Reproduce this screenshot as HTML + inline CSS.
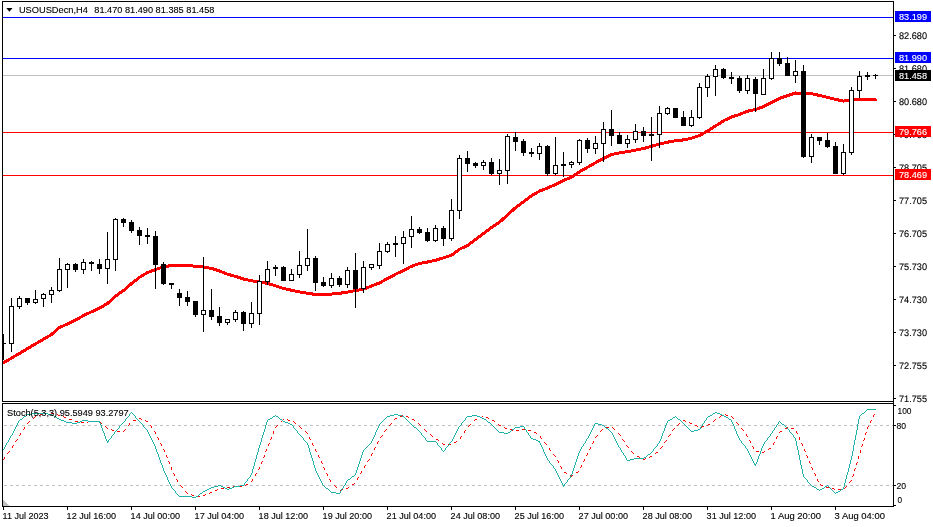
<!DOCTYPE html>
<html><head><meta charset="utf-8"><title>USOUSDecn,H4</title>
<style>html,body{margin:0;padding:0;background:#fff}body{width:933px;height:527px;overflow:hidden;position:relative}</style></head>
<body>
<svg width="933" height="527" viewBox="0 0 933 527" shape-rendering="crispEdges" style="position:absolute;left:0;top:0">
<rect x="0" y="0" width="933" height="527" fill="#fff"/>
<rect x="3" y="17" width="890" height="1" fill="#0000ff"/>
<rect x="3" y="58" width="890" height="1" fill="#0000ff"/>
<rect x="3" y="75" width="890" height="1" fill="#c0c0c0"/>
<rect x="3" y="132" width="890" height="1" fill="#ff0000"/>
<rect x="3" y="175" width="890" height="1" fill="#ff0000"/>
<polyline points="3.5,362.8 11.5,358.1 19.5,353.4 27.5,348.6 35.5,343.9 43.5,339.2 51.5,334.5 59.5,327.5 67.5,324.0 75.5,320.1 83.5,315.6 91.5,311.8 99.5,308.1 107.5,303.5 115.5,296.1 123.5,290.5 131.5,283.6 139.5,277.3 147.5,272.5 155.5,269.6 163.5,266.7 171.5,265.6 179.5,265.6 187.5,265.6 195.5,266.2 203.5,267.0 211.5,268.4 219.5,271.0 227.5,274.2 235.5,276.4 243.5,279.0 251.5,280.7 259.5,282.1 267.5,283.3 275.5,285.9 283.5,288.4 291.5,290.2 299.5,291.9 307.5,293.2 315.5,294.5 323.5,294.6 331.5,294.1 339.5,293.3 347.5,292.1 355.5,290.6 363.5,289.2 371.5,286.0 379.5,282.9 387.5,278.6 395.5,274.3 403.5,270.4 411.5,266.3 419.5,263.5 427.5,262.0 435.5,260.3 443.5,257.8 451.5,255.2 459.5,249.2 467.5,245.5 475.5,239.5 483.5,233.5 491.5,227.5 499.5,222.3 507.5,214.9 515.5,207.7 523.5,201.7 531.5,195.7 539.5,191.1 547.5,188.0 555.5,184.5 563.5,180.4 571.5,177.2 579.5,171.8 587.5,167.3 595.5,162.7 603.5,158.5 611.5,154.5 619.5,152.9 627.5,151.6 635.5,150.1 643.5,148.6 651.5,146.3 659.5,144.0 667.5,142.2 675.5,140.7 683.5,139.9 691.5,138.2 699.5,135.6 707.5,131.0 715.5,126.0 723.5,120.8 731.5,116.9 739.5,114.5 747.5,111.2 755.5,109.5 763.5,106.6 771.5,102.6 779.5,98.4 787.5,95.6 795.5,93.0 803.5,93.2 811.5,93.6 819.5,95.5 827.5,97.3 835.5,99.3 843.5,101.1 851.5,99.7 859.5,99.7 867.5,99.7 875.5,99.7" fill="none" stroke="#ff0000" stroke-width="3" stroke-linejoin="round" stroke-linecap="round"/>
<rect x="3" y="334" width="1" height="26" fill="#000"/>
<rect x="3" y="343" width="3" height="1" fill="#000"/>
<rect x="11" y="298" width="1" height="54" fill="#000"/>
<rect x="9" y="306" width="5" height="38" fill="#000"/>
<rect x="10" y="307" width="3" height="36" fill="#fff"/>
<rect x="19" y="296" width="1" height="13" fill="#000"/>
<rect x="17" y="298" width="5" height="9" fill="#000"/>
<rect x="18" y="299" width="3" height="7" fill="#fff"/>
<rect x="27" y="298" width="1" height="7" fill="#000"/>
<rect x="25" y="298" width="5" height="5" fill="#000"/>
<rect x="35" y="290" width="1" height="14" fill="#000"/>
<rect x="33" y="299" width="5" height="4" fill="#000"/>
<rect x="34" y="300" width="3" height="2" fill="#fff"/>
<rect x="43" y="293" width="1" height="14" fill="#000"/>
<rect x="41" y="294" width="5" height="5" fill="#000"/>
<rect x="42" y="295" width="3" height="3" fill="#fff"/>
<rect x="51" y="287" width="1" height="16" fill="#000"/>
<rect x="49" y="290" width="5" height="5" fill="#000"/>
<rect x="50" y="291" width="3" height="3" fill="#fff"/>
<rect x="59" y="258" width="1" height="34" fill="#000"/>
<rect x="57" y="269" width="5" height="22" fill="#000"/>
<rect x="58" y="270" width="3" height="20" fill="#fff"/>
<rect x="67" y="263" width="1" height="25" fill="#000"/>
<rect x="65" y="264" width="5" height="6" fill="#000"/>
<rect x="66" y="265" width="3" height="4" fill="#fff"/>
<rect x="75" y="263" width="1" height="9" fill="#000"/>
<rect x="73" y="264" width="5" height="6" fill="#000"/>
<rect x="83" y="259" width="1" height="15" fill="#000"/>
<rect x="81" y="262" width="5" height="8" fill="#000"/>
<rect x="82" y="263" width="3" height="6" fill="#fff"/>
<rect x="91" y="261" width="1" height="10" fill="#000"/>
<rect x="89" y="262" width="5" height="2" fill="#000"/>
<rect x="99" y="259" width="1" height="15" fill="#000"/>
<rect x="97" y="264" width="5" height="5" fill="#000"/>
<rect x="107" y="232" width="1" height="52" fill="#000"/>
<rect x="105" y="259" width="5" height="10" fill="#000"/>
<rect x="106" y="260" width="3" height="8" fill="#fff"/>
<rect x="115" y="218" width="1" height="53" fill="#000"/>
<rect x="113" y="219" width="5" height="41" fill="#000"/>
<rect x="114" y="220" width="3" height="39" fill="#fff"/>
<rect x="123" y="218" width="1" height="9" fill="#000"/>
<rect x="121" y="219" width="5" height="4" fill="#000"/>
<rect x="131" y="220" width="1" height="13" fill="#000"/>
<rect x="129" y="222" width="5" height="9" fill="#000"/>
<rect x="139" y="227" width="1" height="18" fill="#000"/>
<rect x="137" y="230" width="5" height="6" fill="#000"/>
<rect x="147" y="228" width="1" height="16" fill="#000"/>
<rect x="145" y="235" width="5" height="2" fill="#000"/>
<rect x="155" y="231" width="1" height="58" fill="#000"/>
<rect x="153" y="236" width="5" height="29" fill="#000"/>
<rect x="163" y="262" width="1" height="23" fill="#000"/>
<rect x="161" y="264" width="5" height="20" fill="#000"/>
<rect x="171" y="283" width="1" height="6" fill="#000"/>
<rect x="169" y="283" width="5" height="2" fill="#000"/>
<rect x="179" y="289" width="1" height="17" fill="#000"/>
<rect x="177" y="293" width="5" height="5" fill="#000"/>
<rect x="187" y="291" width="1" height="15" fill="#000"/>
<rect x="185" y="297" width="5" height="5" fill="#000"/>
<rect x="195" y="301" width="1" height="16" fill="#000"/>
<rect x="193" y="301" width="5" height="14" fill="#000"/>
<rect x="203" y="257" width="1" height="75" fill="#000"/>
<rect x="201" y="310" width="5" height="5" fill="#000"/>
<rect x="202" y="311" width="3" height="3" fill="#fff"/>
<rect x="211" y="289" width="1" height="31" fill="#000"/>
<rect x="209" y="310" width="5" height="7" fill="#000"/>
<rect x="219" y="307" width="1" height="19" fill="#000"/>
<rect x="217" y="316" width="5" height="7" fill="#000"/>
<rect x="227" y="319" width="1" height="6" fill="#000"/>
<rect x="225" y="319" width="5" height="4" fill="#000"/>
<rect x="226" y="320" width="3" height="2" fill="#fff"/>
<rect x="235" y="310" width="1" height="12" fill="#000"/>
<rect x="233" y="312" width="5" height="8" fill="#000"/>
<rect x="234" y="313" width="3" height="6" fill="#fff"/>
<rect x="243" y="311" width="1" height="20" fill="#000"/>
<rect x="241" y="312" width="5" height="12" fill="#000"/>
<rect x="251" y="302" width="1" height="26" fill="#000"/>
<rect x="249" y="313" width="5" height="11" fill="#000"/>
<rect x="250" y="314" width="3" height="9" fill="#fff"/>
<rect x="259" y="275" width="1" height="50" fill="#000"/>
<rect x="257" y="281" width="5" height="33" fill="#000"/>
<rect x="258" y="282" width="3" height="31" fill="#fff"/>
<rect x="267" y="261" width="1" height="24" fill="#000"/>
<rect x="265" y="269" width="5" height="13" fill="#000"/>
<rect x="266" y="270" width="3" height="11" fill="#fff"/>
<rect x="275" y="265" width="1" height="11" fill="#000"/>
<rect x="273" y="267" width="5" height="2" fill="#000"/>
<rect x="283" y="266" width="1" height="15" fill="#000"/>
<rect x="281" y="267" width="5" height="14" fill="#000"/>
<rect x="291" y="269" width="1" height="12" fill="#000"/>
<rect x="289" y="274" width="5" height="7" fill="#000"/>
<rect x="290" y="275" width="3" height="5" fill="#fff"/>
<rect x="299" y="251" width="1" height="27" fill="#000"/>
<rect x="297" y="265" width="5" height="10" fill="#000"/>
<rect x="298" y="266" width="3" height="8" fill="#fff"/>
<rect x="307" y="229" width="1" height="42" fill="#000"/>
<rect x="305" y="258" width="5" height="8" fill="#000"/>
<rect x="306" y="259" width="3" height="6" fill="#fff"/>
<rect x="315" y="256" width="1" height="35" fill="#000"/>
<rect x="313" y="258" width="5" height="25" fill="#000"/>
<rect x="323" y="277" width="1" height="10" fill="#000"/>
<rect x="321" y="282" width="5" height="4" fill="#000"/>
<rect x="331" y="273" width="1" height="15" fill="#000"/>
<rect x="329" y="278" width="5" height="8" fill="#000"/>
<rect x="330" y="279" width="3" height="6" fill="#fff"/>
<rect x="339" y="276" width="1" height="11" fill="#000"/>
<rect x="337" y="278" width="5" height="7" fill="#000"/>
<rect x="347" y="267" width="1" height="21" fill="#000"/>
<rect x="345" y="270" width="5" height="15" fill="#000"/>
<rect x="346" y="271" width="3" height="13" fill="#fff"/>
<rect x="355" y="253" width="1" height="55" fill="#000"/>
<rect x="353" y="270" width="5" height="19" fill="#000"/>
<rect x="363" y="261" width="1" height="32" fill="#000"/>
<rect x="361" y="267" width="5" height="22" fill="#000"/>
<rect x="362" y="268" width="3" height="20" fill="#fff"/>
<rect x="371" y="264" width="1" height="6" fill="#000"/>
<rect x="369" y="264" width="5" height="4" fill="#000"/>
<rect x="370" y="265" width="3" height="2" fill="#fff"/>
<rect x="379" y="243" width="1" height="26" fill="#000"/>
<rect x="377" y="251" width="5" height="15" fill="#000"/>
<rect x="378" y="252" width="3" height="13" fill="#fff"/>
<rect x="387" y="242" width="1" height="11" fill="#000"/>
<rect x="385" y="244" width="5" height="8" fill="#000"/>
<rect x="386" y="245" width="3" height="6" fill="#fff"/>
<rect x="395" y="236" width="1" height="21" fill="#000"/>
<rect x="393" y="243" width="5" height="2" fill="#000"/>
<rect x="403" y="231" width="1" height="33" fill="#000"/>
<rect x="401" y="237" width="5" height="7" fill="#000"/>
<rect x="402" y="238" width="3" height="5" fill="#fff"/>
<rect x="411" y="216" width="1" height="32" fill="#000"/>
<rect x="409" y="229" width="5" height="8" fill="#000"/>
<rect x="410" y="230" width="3" height="6" fill="#fff"/>
<rect x="419" y="227" width="1" height="7" fill="#000"/>
<rect x="417" y="229" width="5" height="4" fill="#000"/>
<rect x="427" y="228" width="1" height="14" fill="#000"/>
<rect x="425" y="232" width="5" height="9" fill="#000"/>
<rect x="435" y="225" width="1" height="17" fill="#000"/>
<rect x="433" y="228" width="5" height="13" fill="#000"/>
<rect x="434" y="229" width="3" height="11" fill="#fff"/>
<rect x="443" y="226" width="1" height="20" fill="#000"/>
<rect x="441" y="228" width="5" height="11" fill="#000"/>
<rect x="451" y="199" width="1" height="42" fill="#000"/>
<rect x="449" y="210" width="5" height="29" fill="#000"/>
<rect x="450" y="211" width="3" height="27" fill="#fff"/>
<rect x="459" y="155" width="1" height="64" fill="#000"/>
<rect x="457" y="158" width="5" height="53" fill="#000"/>
<rect x="458" y="159" width="3" height="51" fill="#fff"/>
<rect x="467" y="151" width="1" height="21" fill="#000"/>
<rect x="465" y="158" width="5" height="6" fill="#000"/>
<rect x="475" y="162" width="1" height="6" fill="#000"/>
<rect x="473" y="163" width="5" height="3" fill="#000"/>
<rect x="483" y="160" width="1" height="10" fill="#000"/>
<rect x="481" y="162" width="5" height="4" fill="#000"/>
<rect x="482" y="163" width="3" height="2" fill="#fff"/>
<rect x="491" y="158" width="1" height="17" fill="#000"/>
<rect x="489" y="162" width="5" height="12" fill="#000"/>
<rect x="499" y="159" width="1" height="26" fill="#000"/>
<rect x="497" y="170" width="5" height="4" fill="#000"/>
<rect x="498" y="171" width="3" height="2" fill="#fff"/>
<rect x="507" y="134" width="1" height="50" fill="#000"/>
<rect x="505" y="136" width="5" height="35" fill="#000"/>
<rect x="506" y="137" width="3" height="33" fill="#fff"/>
<rect x="515" y="132" width="1" height="19" fill="#000"/>
<rect x="513" y="137" width="5" height="5" fill="#000"/>
<rect x="523" y="139" width="1" height="17" fill="#000"/>
<rect x="521" y="141" width="5" height="12" fill="#000"/>
<rect x="531" y="148" width="1" height="9" fill="#000"/>
<rect x="529" y="152" width="5" height="2" fill="#000"/>
<rect x="539" y="143" width="1" height="17" fill="#000"/>
<rect x="537" y="146" width="5" height="8" fill="#000"/>
<rect x="538" y="147" width="3" height="6" fill="#fff"/>
<rect x="547" y="145" width="1" height="31" fill="#000"/>
<rect x="545" y="146" width="5" height="28" fill="#000"/>
<rect x="555" y="137" width="1" height="38" fill="#000"/>
<rect x="553" y="165" width="5" height="9" fill="#000"/>
<rect x="554" y="166" width="3" height="7" fill="#fff"/>
<rect x="563" y="152" width="1" height="25" fill="#000"/>
<rect x="561" y="164" width="5" height="2" fill="#000"/>
<rect x="571" y="161" width="1" height="7" fill="#000"/>
<rect x="569" y="162" width="5" height="3" fill="#000"/>
<rect x="570" y="163" width="3" height="1" fill="#fff"/>
<rect x="579" y="139" width="1" height="26" fill="#000"/>
<rect x="577" y="140" width="5" height="23" fill="#000"/>
<rect x="578" y="141" width="3" height="21" fill="#fff"/>
<rect x="587" y="138" width="1" height="15" fill="#000"/>
<rect x="585" y="140" width="5" height="9" fill="#000"/>
<rect x="595" y="136" width="1" height="18" fill="#000"/>
<rect x="593" y="143" width="5" height="6" fill="#000"/>
<rect x="594" y="144" width="3" height="4" fill="#fff"/>
<rect x="603" y="122" width="1" height="40" fill="#000"/>
<rect x="601" y="129" width="5" height="15" fill="#000"/>
<rect x="602" y="130" width="3" height="13" fill="#fff"/>
<rect x="611" y="110" width="1" height="36" fill="#000"/>
<rect x="609" y="129" width="5" height="7" fill="#000"/>
<rect x="619" y="132" width="1" height="12" fill="#000"/>
<rect x="617" y="135" width="5" height="9" fill="#000"/>
<rect x="627" y="135" width="1" height="13" fill="#000"/>
<rect x="625" y="139" width="5" height="5" fill="#000"/>
<rect x="626" y="140" width="3" height="3" fill="#fff"/>
<rect x="635" y="124" width="1" height="19" fill="#000"/>
<rect x="633" y="131" width="5" height="9" fill="#000"/>
<rect x="634" y="132" width="3" height="7" fill="#fff"/>
<rect x="643" y="127" width="1" height="15" fill="#000"/>
<rect x="641" y="131" width="5" height="5" fill="#000"/>
<rect x="651" y="117" width="1" height="44" fill="#000"/>
<rect x="649" y="134" width="5" height="2" fill="#000"/>
<rect x="659" y="106" width="1" height="42" fill="#000"/>
<rect x="657" y="113" width="5" height="22" fill="#000"/>
<rect x="658" y="114" width="3" height="20" fill="#fff"/>
<rect x="667" y="107" width="1" height="8" fill="#000"/>
<rect x="665" y="108" width="5" height="6" fill="#000"/>
<rect x="666" y="109" width="3" height="4" fill="#fff"/>
<rect x="675" y="108" width="1" height="10" fill="#000"/>
<rect x="673" y="108" width="5" height="10" fill="#000"/>
<rect x="683" y="111" width="1" height="15" fill="#000"/>
<rect x="681" y="117" width="5" height="9" fill="#000"/>
<rect x="691" y="110" width="1" height="17" fill="#000"/>
<rect x="689" y="117" width="5" height="9" fill="#000"/>
<rect x="690" y="118" width="3" height="7" fill="#fff"/>
<rect x="699" y="83" width="1" height="36" fill="#000"/>
<rect x="697" y="87" width="5" height="31" fill="#000"/>
<rect x="698" y="88" width="3" height="29" fill="#fff"/>
<rect x="707" y="74" width="1" height="23" fill="#000"/>
<rect x="705" y="76" width="5" height="12" fill="#000"/>
<rect x="706" y="77" width="3" height="10" fill="#fff"/>
<rect x="715" y="65" width="1" height="31" fill="#000"/>
<rect x="713" y="69" width="5" height="8" fill="#000"/>
<rect x="714" y="70" width="3" height="6" fill="#fff"/>
<rect x="723" y="68" width="1" height="11" fill="#000"/>
<rect x="721" y="69" width="5" height="9" fill="#000"/>
<rect x="731" y="72" width="1" height="12" fill="#000"/>
<rect x="729" y="77" width="5" height="2" fill="#000"/>
<rect x="739" y="76" width="1" height="17" fill="#000"/>
<rect x="737" y="78" width="5" height="13" fill="#000"/>
<rect x="747" y="75" width="1" height="19" fill="#000"/>
<rect x="745" y="78" width="5" height="13" fill="#000"/>
<rect x="746" y="79" width="3" height="11" fill="#fff"/>
<rect x="755" y="77" width="1" height="35" fill="#000"/>
<rect x="753" y="79" width="5" height="15" fill="#000"/>
<rect x="763" y="69" width="1" height="26" fill="#000"/>
<rect x="761" y="78" width="5" height="17" fill="#000"/>
<rect x="762" y="79" width="3" height="15" fill="#fff"/>
<rect x="771" y="52" width="1" height="28" fill="#000"/>
<rect x="769" y="58" width="5" height="21" fill="#000"/>
<rect x="770" y="59" width="3" height="19" fill="#fff"/>
<rect x="779" y="52" width="1" height="14" fill="#000"/>
<rect x="777" y="58" width="5" height="6" fill="#000"/>
<rect x="787" y="57" width="1" height="19" fill="#000"/>
<rect x="785" y="63" width="5" height="13" fill="#000"/>
<rect x="795" y="60" width="1" height="23" fill="#000"/>
<rect x="793" y="71" width="5" height="5" fill="#000"/>
<rect x="794" y="72" width="3" height="3" fill="#fff"/>
<rect x="803" y="65" width="1" height="93" fill="#000"/>
<rect x="801" y="71" width="5" height="86" fill="#000"/>
<rect x="811" y="134" width="1" height="29" fill="#000"/>
<rect x="809" y="137" width="5" height="20" fill="#000"/>
<rect x="810" y="138" width="3" height="18" fill="#fff"/>
<rect x="819" y="137" width="1" height="8" fill="#000"/>
<rect x="817" y="137" width="5" height="4" fill="#000"/>
<rect x="827" y="133" width="1" height="15" fill="#000"/>
<rect x="825" y="140" width="5" height="7" fill="#000"/>
<rect x="835" y="142" width="1" height="32" fill="#000"/>
<rect x="833" y="146" width="5" height="28" fill="#000"/>
<rect x="843" y="144" width="1" height="31" fill="#000"/>
<rect x="841" y="152" width="5" height="22" fill="#000"/>
<rect x="842" y="153" width="3" height="20" fill="#fff"/>
<rect x="851" y="87" width="1" height="68" fill="#000"/>
<rect x="849" y="90" width="5" height="63" fill="#000"/>
<rect x="850" y="91" width="3" height="61" fill="#fff"/>
<rect x="859" y="71" width="1" height="27" fill="#000"/>
<rect x="857" y="76" width="5" height="15" fill="#000"/>
<rect x="858" y="77" width="3" height="13" fill="#fff"/>
<rect x="867" y="72" width="1" height="8" fill="#000"/>
<rect x="865" y="75" width="5" height="2" fill="#000"/>
<rect x="875" y="74" width="1" height="5" fill="#000"/>
<rect x="873" y="75" width="5" height="1" fill="#000"/>
<path d="M4 425h3v1h-3zM10 425h3v1h-3zM16 425h3v1h-3zM22 425h3v1h-3zM28 425h3v1h-3zM34 425h3v1h-3zM40 425h3v1h-3zM46 425h3v1h-3zM52 425h3v1h-3zM58 425h3v1h-3zM64 425h3v1h-3zM70 425h3v1h-3zM76 425h3v1h-3zM82 425h3v1h-3zM88 425h3v1h-3zM94 425h3v1h-3zM100 425h3v1h-3zM106 425h3v1h-3zM112 425h3v1h-3zM118 425h3v1h-3zM124 425h3v1h-3zM130 425h3v1h-3zM136 425h3v1h-3zM142 425h3v1h-3zM148 425h3v1h-3zM154 425h3v1h-3zM160 425h3v1h-3zM166 425h3v1h-3zM172 425h3v1h-3zM178 425h3v1h-3zM184 425h3v1h-3zM190 425h3v1h-3zM196 425h3v1h-3zM202 425h3v1h-3zM208 425h3v1h-3zM214 425h3v1h-3zM220 425h3v1h-3zM226 425h3v1h-3zM232 425h3v1h-3zM238 425h3v1h-3zM244 425h3v1h-3zM250 425h3v1h-3zM256 425h3v1h-3zM262 425h3v1h-3zM268 425h3v1h-3zM274 425h3v1h-3zM280 425h3v1h-3zM286 425h3v1h-3zM292 425h3v1h-3zM298 425h3v1h-3zM304 425h3v1h-3zM310 425h3v1h-3zM316 425h3v1h-3zM322 425h3v1h-3zM328 425h3v1h-3zM334 425h3v1h-3zM340 425h3v1h-3zM346 425h3v1h-3zM352 425h3v1h-3zM358 425h3v1h-3zM364 425h3v1h-3zM370 425h3v1h-3zM376 425h3v1h-3zM382 425h3v1h-3zM388 425h3v1h-3zM394 425h3v1h-3zM400 425h3v1h-3zM406 425h3v1h-3zM412 425h3v1h-3zM418 425h3v1h-3zM424 425h3v1h-3zM430 425h3v1h-3zM436 425h3v1h-3zM442 425h3v1h-3zM448 425h3v1h-3zM454 425h3v1h-3zM460 425h3v1h-3zM466 425h3v1h-3zM472 425h3v1h-3zM478 425h3v1h-3zM484 425h3v1h-3zM490 425h3v1h-3zM496 425h3v1h-3zM502 425h3v1h-3zM508 425h3v1h-3zM514 425h3v1h-3zM520 425h3v1h-3zM526 425h3v1h-3zM532 425h3v1h-3zM538 425h3v1h-3zM544 425h3v1h-3zM550 425h3v1h-3zM556 425h3v1h-3zM562 425h3v1h-3zM568 425h3v1h-3zM574 425h3v1h-3zM580 425h3v1h-3zM586 425h3v1h-3zM592 425h3v1h-3zM598 425h3v1h-3zM604 425h3v1h-3zM610 425h3v1h-3zM616 425h3v1h-3zM622 425h3v1h-3zM628 425h3v1h-3zM634 425h3v1h-3zM640 425h3v1h-3zM646 425h3v1h-3zM652 425h3v1h-3zM658 425h3v1h-3zM664 425h3v1h-3zM670 425h3v1h-3zM676 425h3v1h-3zM682 425h3v1h-3zM688 425h3v1h-3zM694 425h3v1h-3zM700 425h3v1h-3zM706 425h3v1h-3zM712 425h3v1h-3zM718 425h3v1h-3zM724 425h3v1h-3zM730 425h3v1h-3zM736 425h3v1h-3zM742 425h3v1h-3zM748 425h3v1h-3zM754 425h3v1h-3zM760 425h3v1h-3zM766 425h3v1h-3zM772 425h3v1h-3zM778 425h3v1h-3zM784 425h3v1h-3zM790 425h3v1h-3zM796 425h3v1h-3zM802 425h3v1h-3zM808 425h3v1h-3zM814 425h3v1h-3zM820 425h3v1h-3zM826 425h3v1h-3zM832 425h3v1h-3zM838 425h3v1h-3zM844 425h3v1h-3zM850 425h3v1h-3zM856 425h3v1h-3zM862 425h3v1h-3zM868 425h3v1h-3zM874 425h3v1h-3zM880 425h3v1h-3zM886 425h3v1h-3zM892 425h1v1h-1z" fill="#c0c0c0"/>
<path d="M4 485h3v1h-3zM10 485h3v1h-3zM16 485h3v1h-3zM22 485h3v1h-3zM28 485h3v1h-3zM34 485h3v1h-3zM40 485h3v1h-3zM46 485h3v1h-3zM52 485h3v1h-3zM58 485h3v1h-3zM64 485h3v1h-3zM70 485h3v1h-3zM76 485h3v1h-3zM82 485h3v1h-3zM88 485h3v1h-3zM94 485h3v1h-3zM100 485h3v1h-3zM106 485h3v1h-3zM112 485h3v1h-3zM118 485h3v1h-3zM124 485h3v1h-3zM130 485h3v1h-3zM136 485h3v1h-3zM142 485h3v1h-3zM148 485h3v1h-3zM154 485h3v1h-3zM160 485h3v1h-3zM166 485h3v1h-3zM172 485h3v1h-3zM178 485h3v1h-3zM184 485h3v1h-3zM190 485h3v1h-3zM196 485h3v1h-3zM202 485h3v1h-3zM208 485h3v1h-3zM214 485h3v1h-3zM220 485h3v1h-3zM226 485h3v1h-3zM232 485h3v1h-3zM238 485h3v1h-3zM244 485h3v1h-3zM250 485h3v1h-3zM256 485h3v1h-3zM262 485h3v1h-3zM268 485h3v1h-3zM274 485h3v1h-3zM280 485h3v1h-3zM286 485h3v1h-3zM292 485h3v1h-3zM298 485h3v1h-3zM304 485h3v1h-3zM310 485h3v1h-3zM316 485h3v1h-3zM322 485h3v1h-3zM328 485h3v1h-3zM334 485h3v1h-3zM340 485h3v1h-3zM346 485h3v1h-3zM352 485h3v1h-3zM358 485h3v1h-3zM364 485h3v1h-3zM370 485h3v1h-3zM376 485h3v1h-3zM382 485h3v1h-3zM388 485h3v1h-3zM394 485h3v1h-3zM400 485h3v1h-3zM406 485h3v1h-3zM412 485h3v1h-3zM418 485h3v1h-3zM424 485h3v1h-3zM430 485h3v1h-3zM436 485h3v1h-3zM442 485h3v1h-3zM448 485h3v1h-3zM454 485h3v1h-3zM460 485h3v1h-3zM466 485h3v1h-3zM472 485h3v1h-3zM478 485h3v1h-3zM484 485h3v1h-3zM490 485h3v1h-3zM496 485h3v1h-3zM502 485h3v1h-3zM508 485h3v1h-3zM514 485h3v1h-3zM520 485h3v1h-3zM526 485h3v1h-3zM532 485h3v1h-3zM538 485h3v1h-3zM544 485h3v1h-3zM550 485h3v1h-3zM556 485h3v1h-3zM562 485h3v1h-3zM568 485h3v1h-3zM574 485h3v1h-3zM580 485h3v1h-3zM586 485h3v1h-3zM592 485h3v1h-3zM598 485h3v1h-3zM604 485h3v1h-3zM610 485h3v1h-3zM616 485h3v1h-3zM622 485h3v1h-3zM628 485h3v1h-3zM634 485h3v1h-3zM640 485h3v1h-3zM646 485h3v1h-3zM652 485h3v1h-3zM658 485h3v1h-3zM664 485h3v1h-3zM670 485h3v1h-3zM676 485h3v1h-3zM682 485h3v1h-3zM688 485h3v1h-3zM694 485h3v1h-3zM700 485h3v1h-3zM706 485h3v1h-3zM712 485h3v1h-3zM718 485h3v1h-3zM724 485h3v1h-3zM730 485h3v1h-3zM736 485h3v1h-3zM742 485h3v1h-3zM748 485h3v1h-3zM754 485h3v1h-3zM760 485h3v1h-3zM766 485h3v1h-3zM772 485h3v1h-3zM778 485h3v1h-3zM784 485h3v1h-3zM790 485h3v1h-3zM796 485h3v1h-3zM802 485h3v1h-3zM808 485h3v1h-3zM814 485h3v1h-3zM820 485h3v1h-3zM826 485h3v1h-3zM832 485h3v1h-3zM838 485h3v1h-3zM844 485h3v1h-3zM850 485h3v1h-3zM856 485h3v1h-3zM862 485h3v1h-3zM868 485h3v1h-3zM874 485h3v1h-3zM880 485h3v1h-3zM886 485h3v1h-3zM892 485h1v1h-1z" fill="#c0c0c0"/>
<path d="M45 413h3v1h-3zM51 413h3v1h-3zM40 414h2v1h-2zM57 414h1v1h-1zM725 414h1v1h-1zM874 414h1v1h-1zM39 415h1v1h-1zM58 415h2v1h-2zM402 415h1v1h-1zM721 415h1v1h-1zM726 415h2v1h-2zM873 415h1v1h-1zM35 416h1v1h-1zM63 416h1v1h-1zM400 416h2v1h-2zM406 416h2v1h-2zM482 416h1v1h-1zM720 416h1v1h-1zM731 416h1v1h-1zM873 416h1v1h-1zM34 417h1v1h-1zM64 417h2v1h-2zM408 417h1v1h-1zM480 417h2v1h-2zM486 417h2v1h-2zM719 417h1v1h-1zM732 417h1v1h-1zM33 418h1v1h-1zM139 418h2v1h-2zM395 418h2v1h-2zM488 418h1v1h-1zM733 418h1v1h-1zM69 419h3v1h-3zM141 419h1v1h-1zM283 419h1v1h-1zM287 419h1v1h-1zM394 419h1v1h-1zM412 419h2v1h-2zM475 419h2v1h-2zM715 419h1v1h-1zM133 420h3v1h-3zM145 420h1v1h-1zM282 420h1v1h-1zM288 420h2v1h-2zM414 420h1v1h-1zM474 420h1v1h-1zM492 420h2v1h-2zM683 420h2v1h-2zM714 420h1v1h-1zM871 420h1v1h-1zM29 421h1v1h-1zM75 421h3v1h-3zM88 421h2v1h-2zM93 421h3v1h-3zM99 421h1v1h-1zM146 421h2v1h-2zM281 421h1v1h-1zM293 421h1v1h-1zM494 421h1v1h-1zM685 421h1v1h-1zM713 421h1v1h-1zM870 421h1v1h-1zM28 422h1v1h-1zM81 422h3v1h-3zM87 422h1v1h-1zM100 422h1v1h-1zM294 422h1v1h-1zM689 422h1v1h-1zM736 422h1v1h-1zM870 422h1v1h-1zM27 423h1v1h-1zM101 423h1v1h-1zM129 423h1v1h-1zM295 423h1v1h-1zM391 423h1v1h-1zM418 423h1v1h-1zM679 423h1v1h-1zM690 423h2v1h-2zM737 423h1v1h-1zM129 424h1v1h-1zM390 424h1v1h-1zM419 424h1v1h-1zM470 424h1v1h-1zM498 424h1v1h-1zM678 424h1v1h-1zM708 424h2v1h-2zM738 424h1v1h-1zM128 425h1v1h-1zM150 425h1v1h-1zM277 425h1v1h-1zM389 425h1v1h-1zM420 425h1v1h-1zM469 425h1v1h-1zM499 425h2v1h-2zM677 425h1v1h-1zM695 425h2v1h-2zM707 425h1v1h-1zM105 426h1v1h-1zM151 426h1v1h-1zM276 426h1v1h-1zM299 426h1v1h-1zM468 426h1v1h-1zM697 426h1v1h-1zM702 426h2v1h-2zM868 426h1v1h-1zM24 427h1v1h-1zM106 427h1v1h-1zM151 427h1v1h-1zM275 427h1v1h-1zM300 427h1v1h-1zM504 427h1v1h-1zM606 427h3v1h-3zM612 427h1v1h-1zM701 427h1v1h-1zM787 427h1v1h-1zM867 427h1v1h-1zM24 428h1v1h-1zM107 428h1v1h-1zM301 428h1v1h-1zM505 428h2v1h-2zM613 428h1v1h-1zM674 428h1v1h-1zM741 428h1v1h-1zM785 428h2v1h-2zM791 428h3v1h-3zM867 428h1v1h-1zM23 429h1v1h-1zM111 429h1v1h-1zM125 429h1v1h-1zM386 429h1v1h-1zM424 429h1v1h-1zM510 429h2v1h-2zM522 429h3v1h-3zM602 429h1v1h-1zM614 429h1v1h-1zM673 429h1v1h-1zM742 429h1v1h-1zM112 430h2v1h-2zM124 430h1v1h-1zM385 430h1v1h-1zM425 430h1v1h-1zM465 430h1v1h-1zM512 430h1v1h-1zM516 430h3v1h-3zM528 430h3v1h-3zM601 430h1v1h-1zM672 430h1v1h-1zM743 430h1v1h-1zM117 431h3v1h-3zM123 431h1v1h-1zM154 431h1v1h-1zM273 431h1v1h-1zM305 431h1v1h-1zM384 431h1v1h-1zM426 431h1v1h-1zM464 431h1v1h-1zM600 431h1v1h-1zM780 431h2v1h-2zM796 431h1v1h-1zM155 432h1v1h-1zM273 432h1v1h-1zM306 432h1v1h-1zM464 432h1v1h-1zM534 432h2v1h-2zM779 432h1v1h-1zM796 432h1v1h-1zM866 432h1v1h-1zM20 433h1v1h-1zM155 433h1v1h-1zM273 433h1v1h-1zM307 433h1v1h-1zM536 433h1v1h-1zM618 433h1v1h-1zM797 433h1v1h-1zM865 433h1v1h-1zM20 434h1v1h-1zM430 434h1v1h-1zM619 434h1v1h-1zM670 434h1v1h-1zM746 434h1v1h-1zM865 434h1v1h-1zM19 435h1v1h-1zM382 435h1v1h-1zM431 435h1v1h-1zM597 435h1v1h-1zM620 435h1v1h-1zM669 435h1v1h-1zM746 435h1v1h-1zM381 436h1v1h-1zM432 436h1v1h-1zM461 436h1v1h-1zM540 436h1v1h-1zM596 436h1v1h-1zM668 436h1v1h-1zM747 436h1v1h-1zM777 436h1v1h-1zM157 437h1v1h-1zM271 437h1v1h-1zM309 437h1v1h-1zM380 437h1v1h-1zM460 437h1v1h-1zM540 437h1v1h-1zM595 437h1v1h-1zM776 437h1v1h-1zM799 437h1v1h-1zM158 438h1v1h-1zM271 438h1v1h-1zM309 438h1v1h-1zM460 438h1v1h-1zM541 438h1v1h-1zM776 438h1v1h-1zM799 438h1v1h-1zM864 438h1v1h-1zM17 439h1v1h-1zM158 439h1v1h-1zM270 439h1v1h-1zM310 439h1v1h-1zM436 439h2v1h-2zM622 439h1v1h-1zM799 439h1v1h-1zM864 439h1v1h-1zM16 440h1v1h-1zM438 440h1v1h-1zM623 440h1v1h-1zM666 440h1v1h-1zM749 440h1v1h-1zM863 440h1v1h-1zM15 441h1v1h-1zM378 441h1v1h-1zM456 441h1v1h-1zM593 441h1v1h-1zM624 441h1v1h-1zM665 441h1v1h-1zM750 441h1v1h-1zM377 442h1v1h-1zM454 442h2v1h-2zM544 442h1v1h-1zM593 442h1v1h-1zM664 442h1v1h-1zM750 442h1v1h-1zM774 442h1v1h-1zM160 443h1v1h-1zM269 443h1v1h-1zM312 443h1v1h-1zM377 443h1v1h-1zM442 443h1v1h-1zM545 443h1v1h-1zM592 443h1v1h-1zM773 443h1v1h-1zM801 443h1v1h-1zM161 444h1v1h-1zM268 444h1v1h-1zM312 444h1v1h-1zM443 444h2v1h-2zM448 444h3v1h-3zM546 444h1v1h-1zM773 444h1v1h-1zM802 444h1v1h-1zM862 444h1v1h-1zM13 445h1v1h-1zM161 445h1v1h-1zM268 445h1v1h-1zM313 445h1v1h-1zM626 445h1v1h-1zM802 445h1v1h-1zM862 445h1v1h-1zM12 446h1v1h-1zM627 446h1v1h-1zM662 446h1v1h-1zM752 446h1v1h-1zM861 446h1v1h-1zM12 447h1v1h-1zM375 447h1v1h-1zM590 447h1v1h-1zM628 447h1v1h-1zM661 447h1v1h-1zM753 447h1v1h-1zM374 448h1v1h-1zM549 448h1v1h-1zM590 448h1v1h-1zM660 448h1v1h-1zM753 448h1v1h-1zM769 448h2v1h-2zM163 449h1v1h-1zM266 449h1v1h-1zM315 449h1v1h-1zM374 449h1v1h-1zM549 449h1v1h-1zM589 449h1v1h-1zM768 449h1v1h-1zM804 449h1v1h-1zM164 450h1v1h-1zM266 450h1v1h-1zM315 450h1v1h-1zM550 450h1v1h-1zM804 450h1v1h-1zM860 450h1v1h-1zM9 451h1v1h-1zM164 451h1v1h-1zM265 451h1v1h-1zM316 451h1v1h-1zM631 451h1v1h-1zM756 451h3v1h-3zM764 451h1v1h-1zM805 451h1v1h-1zM860 451h1v1h-1zM8 452h1v1h-1zM632 452h1v1h-1zM656 452h2v1h-2zM762 452h2v1h-2zM860 452h1v1h-1zM7 453h1v1h-1zM372 453h1v1h-1zM587 453h1v1h-1zM633 453h1v1h-1zM655 453h1v1h-1zM371 454h1v1h-1zM553 454h1v1h-1zM587 454h1v1h-1zM166 455h1v1h-1zM264 455h1v1h-1zM318 455h1v1h-1zM371 455h1v1h-1zM554 455h1v1h-1zM586 455h1v1h-1zM806 455h1v1h-1zM166 456h1v1h-1zM264 456h1v1h-1zM318 456h1v1h-1zM555 456h1v1h-1zM637 456h2v1h-2zM650 456h2v1h-2zM807 456h1v1h-1zM858 456h1v1h-1zM4 457h1v1h-1zM167 457h1v1h-1zM263 457h1v1h-1zM319 457h1v1h-1zM639 457h1v1h-1zM649 457h1v1h-1zM807 457h1v1h-1zM858 457h1v1h-1zM4 458h1v1h-1zM645 458h1v1h-1zM858 458h1v1h-1zM3 459h1v1h-1zM369 459h1v1h-1zM584 459h1v1h-1zM643 459h2v1h-2zM368 460h1v1h-1zM557 460h1v1h-1zM584 460h1v1h-1zM168 461h1v1h-1zM262 461h1v1h-1zM321 461h1v1h-1zM367 461h1v1h-1zM558 461h1v1h-1zM583 461h1v1h-1zM809 461h1v1h-1zM169 462h1v1h-1zM261 462h1v1h-1zM321 462h1v1h-1zM558 462h1v1h-1zM809 462h1v1h-1zM857 462h1v1h-1zM169 463h1v1h-1zM261 463h1v1h-1zM322 463h1v1h-1zM810 463h1v1h-1zM856 463h1v1h-1zM856 464h1v1h-1zM365 465h1v1h-1zM581 465h1v1h-1zM364 466h1v1h-1zM560 466h1v1h-1zM581 466h1v1h-1zM171 467h1v1h-1zM259 467h1v1h-1zM323 467h1v1h-1zM364 467h1v1h-1zM561 467h1v1h-1zM580 467h1v1h-1zM811 467h1v1h-1zM171 468h1v1h-1zM259 468h1v1h-1zM324 468h1v1h-1zM561 468h1v1h-1zM812 468h1v1h-1zM855 468h1v1h-1zM171 469h1v1h-1zM258 469h1v1h-1zM324 469h1v1h-1zM812 469h1v1h-1zM854 469h1v1h-1zM854 470h1v1h-1zM361 471h1v1h-1zM578 471h1v1h-1zM361 472h1v1h-1zM564 472h2v1h-2zM576 472h2v1h-2zM173 473h1v1h-1zM256 473h1v1h-1zM326 473h1v1h-1zM360 473h1v1h-1zM566 473h1v1h-1zM814 473h1v1h-1zM174 474h1v1h-1zM255 474h1v1h-1zM327 474h1v1h-1zM815 474h1v1h-1zM853 474h1v1h-1zM174 475h1v1h-1zM255 475h1v1h-1zM327 475h1v1h-1zM570 475h1v1h-1zM572 475h1v1h-1zM815 475h1v1h-1zM853 475h1v1h-1zM571 476h1v1h-1zM852 476h1v1h-1zM358 477h1v1h-1zM357 478h1v1h-1zM176 479h1v1h-1zM252 479h1v1h-1zM329 479h1v1h-1zM357 479h1v1h-1zM817 479h1v1h-1zM177 480h1v1h-1zM252 480h1v1h-1zM330 480h1v1h-1zM817 480h1v1h-1zM851 480h1v1h-1zM177 481h1v1h-1zM251 481h1v1h-1zM330 481h1v1h-1zM818 481h1v1h-1zM850 481h1v1h-1zM849 482h1v1h-1zM354 483h1v1h-1zM246 484h2v1h-2zM352 484h2v1h-2zM820 484h1v1h-1zM180 485h1v1h-1zM245 485h1v1h-1zM334 485h1v1h-1zM821 485h2v1h-2zM181 486h1v1h-1zM233 486h3v1h-3zM239 486h3v1h-3zM335 486h1v1h-1zM846 486h1v1h-1zM182 487h1v1h-1zM227 487h3v1h-3zM336 487h1v1h-1zM348 487h1v1h-1zM826 487h3v1h-3zM845 487h1v1h-1zM221 488h3v1h-3zM346 488h2v1h-2zM832 488h2v1h-2zM844 488h1v1h-1zM217 489h1v1h-1zM342 489h1v1h-1zM834 489h1v1h-1zM838 489h3v1h-3zM215 490h2v1h-2zM340 490h2v1h-2zM185 491h1v1h-1zM186 492h1v1h-1zM210 492h2v1h-2zM187 493h1v1h-1zM209 493h1v1h-1zM191 494h1v1h-1zM205 494h1v1h-1zM192 495h2v1h-2zM203 495h2v1h-2zM197 496h3v1h-3z" fill="#ff0000"/>
<path d="M867 409h9v1h-9zM866 410h1v1h-1zM865 411h1v1h-1zM131 412h1v1h-1zM715 412h2v1h-2zM864 412h1v1h-1zM32 413h16v1h-16zM130 413h1v1h-1zM132 413h1v1h-1zM713 413h2v1h-2zM717 413h3v1h-3zM862 413h2v1h-2zM27 414h5v1h-5zM48 414h4v1h-4zM129 414h1v1h-1zM133 414h1v1h-1zM394 414h4v1h-4zM712 414h1v1h-1zM720 414h2v1h-2zM861 414h1v1h-1zM26 415h1v1h-1zM52 415h2v1h-2zM129 415h1v1h-1zM134 415h1v1h-1zM275 415h1v1h-1zM390 415h4v1h-4zM398 415h4v1h-4zM472 415h5v1h-5zM710 415h2v1h-2zM722 415h2v1h-2zM860 415h1v1h-1zM24 416h2v1h-2zM54 416h2v1h-2zM128 416h1v1h-1zM135 416h1v1h-1zM273 416h2v1h-2zM276 416h2v1h-2zM387 416h3v1h-3zM402 416h2v1h-2zM467 416h5v1h-5zM477 416h3v1h-3zM675 416h1v1h-1zM708 416h2v1h-2zM724 416h2v1h-2zM859 416h1v1h-1zM23 417h1v1h-1zM56 417h1v1h-1zM127 417h1v1h-1zM135 417h1v1h-1zM272 417h1v1h-1zM278 417h1v1h-1zM386 417h1v1h-1zM404 417h1v1h-1zM466 417h1v1h-1zM480 417h2v1h-2zM673 417h2v1h-2zM676 417h1v1h-1zM707 417h1v1h-1zM726 417h2v1h-2zM859 417h1v1h-1zM22 418h1v1h-1zM57 418h2v1h-2zM126 418h1v1h-1zM136 418h1v1h-1zM270 418h2v1h-2zM279 418h1v1h-1zM385 418h1v1h-1zM405 418h1v1h-1zM465 418h1v1h-1zM482 418h2v1h-2zM672 418h1v1h-1zM677 418h1v1h-1zM706 418h1v1h-1zM728 418h1v1h-1zM859 418h1v1h-1zM20 419h2v1h-2zM59 419h2v1h-2zM125 419h1v1h-1zM137 419h1v1h-1zM268 419h2v1h-2zM280 419h2v1h-2zM384 419h1v1h-1zM406 419h1v1h-1zM465 419h1v1h-1zM484 419h2v1h-2zM670 419h2v1h-2zM678 419h2v1h-2zM706 419h1v1h-1zM729 419h2v1h-2zM858 419h1v1h-1zM19 420h1v1h-1zM61 420h3v1h-3zM82 420h6v1h-6zM125 420h1v1h-1zM138 420h1v1h-1zM267 420h1v1h-1zM282 420h1v1h-1zM383 420h1v1h-1zM407 420h1v1h-1zM464 420h1v1h-1zM486 420h1v1h-1zM668 420h2v1h-2zM680 420h1v1h-1zM705 420h1v1h-1zM731 420h1v1h-1zM858 420h1v1h-1zM18 421h1v1h-1zM64 421h2v1h-2zM80 421h2v1h-2zM88 421h12v1h-12zM124 421h1v1h-1zM139 421h1v1h-1zM267 421h1v1h-1zM283 421h2v1h-2zM382 421h1v1h-1zM408 421h1v1h-1zM463 421h1v1h-1zM487 421h1v1h-1zM667 421h1v1h-1zM681 421h1v1h-1zM704 421h1v1h-1zM731 421h1v1h-1zM779 421h1v1h-1zM858 421h1v1h-1zM18 422h1v1h-1zM66 422h6v1h-6zM77 422h3v1h-3zM99 422h1v1h-1zM123 422h1v1h-1zM140 422h1v1h-1zM266 422h1v1h-1zM285 422h3v1h-3zM381 422h1v1h-1zM409 422h1v1h-1zM462 422h1v1h-1zM488 422h2v1h-2zM667 422h1v1h-1zM682 422h1v1h-1zM704 422h1v1h-1zM732 422h1v1h-1zM778 422h1v1h-1zM780 422h1v1h-1zM858 422h1v1h-1zM17 423h1v1h-1zM72 423h5v1h-5zM100 423h1v1h-1zM122 423h1v1h-1zM141 423h1v1h-1zM266 423h1v1h-1zM288 423h2v1h-2zM380 423h1v1h-1zM410 423h1v1h-1zM461 423h1v1h-1zM490 423h1v1h-1zM595 423h3v1h-3zM666 423h1v1h-1zM683 423h1v1h-1zM703 423h1v1h-1zM732 423h1v1h-1zM778 423h1v1h-1zM781 423h1v1h-1zM858 423h1v1h-1zM17 424h1v1h-1zM100 424h1v1h-1zM121 424h1v1h-1zM142 424h1v1h-1zM266 424h1v1h-1zM290 424h2v1h-2zM379 424h1v1h-1zM411 424h1v1h-1zM461 424h1v1h-1zM491 424h1v1h-1zM594 424h1v1h-1zM598 424h4v1h-4zM666 424h1v1h-1zM684 424h1v1h-1zM702 424h1v1h-1zM733 424h1v1h-1zM777 424h1v1h-1zM782 424h2v1h-2zM857 424h1v1h-1zM16 425h1v1h-1zM101 425h1v1h-1zM120 425h1v1h-1zM143 425h1v1h-1zM265 425h1v1h-1zM292 425h1v1h-1zM379 425h1v1h-1zM412 425h1v1h-1zM460 425h1v1h-1zM492 425h1v1h-1zM594 425h1v1h-1zM602 425h2v1h-2zM665 425h1v1h-1zM685 425h1v1h-1zM702 425h1v1h-1zM733 425h1v1h-1zM776 425h1v1h-1zM784 425h1v1h-1zM857 425h1v1h-1zM16 426h1v1h-1zM101 426h1v1h-1zM119 426h1v1h-1zM143 426h1v1h-1zM265 426h1v1h-1zM293 426h1v1h-1zM378 426h1v1h-1zM413 426h1v1h-1zM459 426h1v1h-1zM493 426h1v1h-1zM520 426h4v1h-4zM593 426h1v1h-1zM604 426h1v1h-1zM665 426h1v1h-1zM686 426h1v1h-1zM701 426h1v1h-1zM734 426h1v1h-1zM776 426h1v1h-1zM785 426h1v1h-1zM857 426h1v1h-1zM15 427h1v1h-1zM101 427h1v1h-1zM119 427h1v1h-1zM144 427h1v1h-1zM265 427h1v1h-1zM293 427h1v1h-1zM378 427h1v1h-1zM414 427h2v1h-2zM458 427h1v1h-1zM494 427h1v1h-1zM515 427h5v1h-5zM524 427h1v1h-1zM593 427h1v1h-1zM605 427h1v1h-1zM665 427h1v1h-1zM687 427h1v1h-1zM700 427h1v1h-1zM734 427h1v1h-1zM775 427h1v1h-1zM786 427h1v1h-1zM857 427h1v1h-1zM15 428h1v1h-1zM102 428h1v1h-1zM118 428h1v1h-1zM145 428h1v1h-1zM265 428h1v1h-1zM294 428h1v1h-1zM377 428h1v1h-1zM416 428h1v1h-1zM458 428h1v1h-1zM495 428h1v1h-1zM514 428h1v1h-1zM524 428h1v1h-1zM592 428h1v1h-1zM606 428h2v1h-2zM664 428h1v1h-1zM688 428h1v1h-1zM700 428h1v1h-1zM734 428h1v1h-1zM774 428h1v1h-1zM787 428h1v1h-1zM857 428h1v1h-1zM14 429h1v1h-1zM102 429h1v1h-1zM117 429h1v1h-1zM146 429h1v1h-1zM264 429h1v1h-1zM295 429h1v1h-1zM377 429h1v1h-1zM417 429h1v1h-1zM457 429h1v1h-1zM496 429h1v1h-1zM512 429h2v1h-2zM525 429h1v1h-1zM592 429h1v1h-1zM608 429h1v1h-1zM664 429h1v1h-1zM689 429h1v1h-1zM698 429h2v1h-2zM735 429h1v1h-1zM774 429h1v1h-1zM788 429h1v1h-1zM857 429h1v1h-1zM14 430h1v1h-1zM102 430h1v1h-1zM116 430h1v1h-1zM147 430h1v1h-1zM264 430h1v1h-1zM296 430h1v1h-1zM376 430h1v1h-1zM418 430h1v1h-1zM457 430h1v1h-1zM497 430h1v1h-1zM511 430h1v1h-1zM526 430h1v1h-1zM591 430h1v1h-1zM609 430h1v1h-1zM664 430h1v1h-1zM690 430h1v1h-1zM694 430h4v1h-4zM735 430h1v1h-1zM773 430h1v1h-1zM789 430h1v1h-1zM856 430h1v1h-1zM13 431h1v1h-1zM103 431h1v1h-1zM115 431h1v1h-1zM147 431h1v1h-1zM264 431h1v1h-1zM297 431h1v1h-1zM376 431h1v1h-1zM419 431h1v1h-1zM456 431h1v1h-1zM498 431h1v1h-1zM510 431h1v1h-1zM526 431h1v1h-1zM591 431h1v1h-1zM610 431h1v1h-1zM663 431h1v1h-1zM691 431h3v1h-3zM736 431h1v1h-1zM772 431h1v1h-1zM789 431h1v1h-1zM856 431h1v1h-1zM13 432h1v1h-1zM103 432h1v1h-1zM114 432h1v1h-1zM148 432h1v1h-1zM263 432h1v1h-1zM297 432h1v1h-1zM375 432h1v1h-1zM420 432h1v1h-1zM456 432h1v1h-1zM499 432h5v1h-5zM508 432h2v1h-2zM527 432h1v1h-1zM590 432h1v1h-1zM611 432h1v1h-1zM663 432h1v1h-1zM736 432h1v1h-1zM772 432h1v1h-1zM790 432h1v1h-1zM856 432h1v1h-1zM12 433h1v1h-1zM104 433h1v1h-1zM114 433h1v1h-1zM148 433h1v1h-1zM263 433h1v1h-1zM298 433h1v1h-1zM375 433h1v1h-1zM421 433h1v1h-1zM455 433h1v1h-1zM504 433h4v1h-4zM528 433h1v1h-1zM590 433h1v1h-1zM612 433h1v1h-1zM662 433h1v1h-1zM736 433h1v1h-1zM771 433h1v1h-1zM791 433h1v1h-1zM856 433h1v1h-1zM12 434h1v1h-1zM104 434h1v1h-1zM113 434h1v1h-1zM149 434h1v1h-1zM263 434h1v1h-1zM299 434h1v1h-1zM375 434h1v1h-1zM421 434h1v1h-1zM455 434h1v1h-1zM528 434h1v1h-1zM589 434h1v1h-1zM612 434h1v1h-1zM662 434h1v1h-1zM737 434h1v1h-1zM770 434h1v1h-1zM792 434h1v1h-1zM856 434h1v1h-1zM11 435h1v1h-1zM104 435h1v1h-1zM112 435h1v1h-1zM149 435h1v1h-1zM262 435h1v1h-1zM300 435h1v1h-1zM374 435h1v1h-1zM422 435h1v1h-1zM454 435h1v1h-1zM529 435h1v1h-1zM589 435h1v1h-1zM613 435h1v1h-1zM662 435h1v1h-1zM737 435h1v1h-1zM770 435h1v1h-1zM793 435h1v1h-1zM855 435h1v1h-1zM10 436h1v1h-1zM105 436h1v1h-1zM111 436h1v1h-1zM150 436h1v1h-1zM262 436h1v1h-1zM301 436h1v1h-1zM374 436h1v1h-1zM423 436h1v1h-1zM454 436h1v1h-1zM530 436h1v1h-1zM588 436h1v1h-1zM613 436h1v1h-1zM661 436h1v1h-1zM738 436h1v1h-1zM769 436h1v1h-1zM793 436h1v1h-1zM855 436h1v1h-1zM10 437h1v1h-1zM105 437h1v1h-1zM111 437h1v1h-1zM150 437h1v1h-1zM262 437h1v1h-1zM302 437h1v1h-1zM373 437h1v1h-1zM424 437h1v1h-1zM453 437h1v1h-1zM530 437h1v1h-1zM588 437h1v1h-1zM614 437h1v1h-1zM661 437h1v1h-1zM738 437h1v1h-1zM768 437h1v1h-1zM794 437h1v1h-1zM855 437h1v1h-1zM9 438h1v1h-1zM105 438h1v1h-1zM110 438h1v1h-1zM151 438h1v1h-1zM261 438h1v1h-1zM303 438h1v1h-1zM373 438h1v1h-1zM425 438h1v1h-1zM453 438h1v1h-1zM531 438h2v1h-2zM587 438h1v1h-1zM614 438h1v1h-1zM661 438h1v1h-1zM739 438h1v1h-1zM767 438h1v1h-1zM795 438h1v1h-1zM855 438h1v1h-1zM9 439h1v1h-1zM106 439h1v1h-1zM109 439h1v1h-1zM151 439h1v1h-1zM261 439h1v1h-1zM303 439h1v1h-1zM372 439h1v1h-1zM425 439h1v1h-1zM452 439h1v1h-1zM533 439h3v1h-3zM586 439h1v1h-1zM615 439h1v1h-1zM660 439h1v1h-1zM739 439h1v1h-1zM767 439h1v1h-1zM795 439h1v1h-1zM855 439h1v1h-1zM8 440h1v1h-1zM106 440h1v1h-1zM108 440h1v1h-1zM152 440h1v1h-1zM261 440h1v1h-1zM304 440h1v1h-1zM372 440h1v1h-1zM426 440h1v1h-1zM452 440h1v1h-1zM536 440h2v1h-2zM586 440h1v1h-1zM615 440h1v1h-1zM660 440h1v1h-1zM740 440h1v1h-1zM766 440h1v1h-1zM795 440h1v1h-1zM854 440h1v1h-1zM8 441h1v1h-1zM107 441h2v1h-2zM152 441h1v1h-1zM261 441h1v1h-1zM305 441h1v1h-1zM371 441h1v1h-1zM427 441h9v1h-9zM451 441h1v1h-1zM538 441h2v1h-2zM585 441h1v1h-1zM616 441h1v1h-1zM659 441h1v1h-1zM741 441h1v1h-1zM765 441h1v1h-1zM796 441h1v1h-1zM854 441h1v1h-1zM7 442h1v1h-1zM107 442h1v1h-1zM153 442h1v1h-1zM260 442h1v1h-1zM306 442h1v1h-1zM371 442h1v1h-1zM436 442h1v1h-1zM450 442h1v1h-1zM539 442h1v1h-1zM585 442h1v1h-1zM616 442h1v1h-1zM659 442h1v1h-1zM741 442h1v1h-1zM764 442h1v1h-1zM796 442h1v1h-1zM854 442h1v1h-1zM6 443h1v1h-1zM153 443h1v1h-1zM260 443h1v1h-1zM307 443h1v1h-1zM370 443h1v1h-1zM437 443h1v1h-1zM449 443h1v1h-1zM540 443h1v1h-1zM584 443h1v1h-1zM617 443h1v1h-1zM658 443h1v1h-1zM742 443h1v1h-1zM764 443h1v1h-1zM796 443h1v1h-1zM854 443h1v1h-1zM6 444h1v1h-1zM154 444h1v1h-1zM260 444h1v1h-1zM307 444h1v1h-1zM369 444h1v1h-1zM437 444h1v1h-1zM449 444h1v1h-1zM540 444h1v1h-1zM583 444h1v1h-1zM617 444h1v1h-1zM657 444h1v1h-1zM743 444h1v1h-1zM763 444h1v1h-1zM796 444h1v1h-1zM854 444h1v1h-1zM5 445h1v1h-1zM154 445h1v1h-1zM259 445h1v1h-1zM308 445h1v1h-1zM368 445h1v1h-1zM438 445h1v1h-1zM448 445h1v1h-1zM541 445h1v1h-1zM583 445h1v1h-1zM618 445h1v1h-1zM657 445h1v1h-1zM744 445h1v1h-1zM763 445h1v1h-1zM796 445h1v1h-1zM853 445h1v1h-1zM5 446h1v1h-1zM155 446h1v1h-1zM259 446h1v1h-1zM308 446h1v1h-1zM367 446h1v1h-1zM439 446h1v1h-1zM447 446h1v1h-1zM541 446h1v1h-1zM582 446h1v1h-1zM618 446h1v1h-1zM656 446h1v1h-1zM745 446h1v1h-1zM762 446h1v1h-1zM797 446h1v1h-1zM853 446h1v1h-1zM4 447h1v1h-1zM155 447h1v1h-1zM259 447h1v1h-1zM308 447h1v1h-1zM366 447h1v1h-1zM440 447h1v1h-1zM446 447h1v1h-1zM542 447h1v1h-1zM581 447h1v1h-1zM619 447h1v1h-1zM655 447h1v1h-1zM745 447h1v1h-1zM762 447h1v1h-1zM797 447h1v1h-1zM853 447h1v1h-1zM4 448h1v1h-1zM155 448h1v1h-1zM258 448h1v1h-1zM309 448h1v1h-1zM365 448h1v1h-1zM441 448h1v1h-1zM445 448h1v1h-1zM542 448h1v1h-1zM581 448h1v1h-1zM620 448h1v1h-1zM654 448h1v1h-1zM746 448h1v1h-1zM761 448h1v1h-1zM797 448h1v1h-1zM853 448h1v1h-1zM3 449h1v1h-1zM156 449h1v1h-1zM258 449h1v1h-1zM309 449h1v1h-1zM364 449h1v1h-1zM441 449h1v1h-1zM445 449h1v1h-1zM543 449h1v1h-1zM580 449h1v1h-1zM620 449h1v1h-1zM653 449h1v1h-1zM747 449h1v1h-1zM761 449h1v1h-1zM797 449h1v1h-1zM853 449h1v1h-1zM156 450h1v1h-1zM258 450h1v1h-1zM309 450h1v1h-1zM363 450h1v1h-1zM442 450h1v1h-1zM444 450h1v1h-1zM543 450h1v1h-1zM580 450h1v1h-1zM621 450h1v1h-1zM653 450h1v1h-1zM747 450h1v1h-1zM761 450h1v1h-1zM798 450h1v1h-1zM853 450h1v1h-1zM156 451h1v1h-1zM258 451h1v1h-1zM309 451h1v1h-1zM363 451h1v1h-1zM443 451h1v1h-1zM543 451h1v1h-1zM579 451h1v1h-1zM621 451h1v1h-1zM652 451h1v1h-1zM748 451h1v1h-1zM760 451h1v1h-1zM798 451h1v1h-1zM852 451h1v1h-1zM157 452h1v1h-1zM257 452h1v1h-1zM310 452h1v1h-1zM362 452h1v1h-1zM544 452h1v1h-1zM579 452h1v1h-1zM622 452h1v1h-1zM651 452h1v1h-1zM748 452h1v1h-1zM760 452h1v1h-1zM798 452h1v1h-1zM852 452h1v1h-1zM157 453h1v1h-1zM257 453h1v1h-1zM310 453h1v1h-1zM362 453h1v1h-1zM544 453h1v1h-1zM578 453h1v1h-1zM623 453h1v1h-1zM650 453h1v1h-1zM749 453h1v1h-1zM760 453h1v1h-1zM798 453h1v1h-1zM852 453h1v1h-1zM158 454h1v1h-1zM257 454h1v1h-1zM310 454h1v1h-1zM362 454h1v1h-1zM545 454h1v1h-1zM578 454h1v1h-1zM623 454h1v1h-1zM648 454h2v1h-2zM749 454h1v1h-1zM759 454h1v1h-1zM798 454h1v1h-1zM852 454h1v1h-1zM158 455h1v1h-1zM256 455h1v1h-1zM311 455h1v1h-1zM361 455h1v1h-1zM545 455h1v1h-1zM578 455h1v1h-1zM624 455h1v1h-1zM647 455h1v1h-1zM750 455h1v1h-1zM759 455h1v1h-1zM799 455h1v1h-1zM852 455h1v1h-1zM158 456h1v1h-1zM256 456h1v1h-1zM311 456h1v1h-1zM361 456h1v1h-1zM546 456h1v1h-1zM577 456h1v1h-1zM625 456h1v1h-1zM646 456h1v1h-1zM750 456h1v1h-1zM758 456h1v1h-1zM799 456h1v1h-1zM851 456h1v1h-1zM159 457h1v1h-1zM256 457h1v1h-1zM311 457h1v1h-1zM361 457h1v1h-1zM546 457h1v1h-1zM577 457h1v1h-1zM625 457h1v1h-1zM644 457h2v1h-2zM751 457h1v1h-1zM758 457h1v1h-1zM799 457h1v1h-1zM851 457h1v1h-1zM159 458h1v1h-1zM256 458h1v1h-1zM312 458h1v1h-1zM360 458h1v1h-1zM547 458h1v1h-1zM577 458h1v1h-1zM626 458h1v1h-1zM634 458h10v1h-10zM751 458h1v1h-1zM758 458h1v1h-1zM799 458h1v1h-1zM851 458h1v1h-1zM159 459h1v1h-1zM255 459h1v1h-1zM312 459h1v1h-1zM360 459h1v1h-1zM547 459h1v1h-1zM576 459h1v1h-1zM626 459h1v1h-1zM630 459h4v1h-4zM752 459h1v1h-1zM757 459h1v1h-1zM799 459h1v1h-1zM851 459h1v1h-1zM160 460h1v1h-1zM255 460h1v1h-1zM312 460h1v1h-1zM360 460h1v1h-1zM548 460h1v1h-1zM576 460h1v1h-1zM627 460h3v1h-3zM752 460h1v1h-1zM757 460h1v1h-1zM800 460h1v1h-1zM850 460h1v1h-1zM160 461h1v1h-1zM255 461h1v1h-1zM313 461h1v1h-1zM359 461h1v1h-1zM549 461h1v1h-1zM576 461h1v1h-1zM753 461h1v1h-1zM757 461h1v1h-1zM800 461h1v1h-1zM850 461h1v1h-1zM160 462h1v1h-1zM254 462h1v1h-1zM313 462h1v1h-1zM359 462h1v1h-1zM549 462h1v1h-1zM575 462h1v1h-1zM753 462h1v1h-1zM756 462h1v1h-1zM800 462h1v1h-1zM850 462h1v1h-1zM161 463h1v1h-1zM254 463h1v1h-1zM313 463h1v1h-1zM359 463h1v1h-1zM550 463h1v1h-1zM575 463h1v1h-1zM754 463h1v1h-1zM756 463h1v1h-1zM800 463h1v1h-1zM850 463h1v1h-1zM161 464h1v1h-1zM254 464h1v1h-1zM313 464h1v1h-1zM358 464h1v1h-1zM551 464h1v1h-1zM575 464h1v1h-1zM754 464h2v1h-2zM800 464h1v1h-1zM849 464h1v1h-1zM162 465h1v1h-1zM254 465h1v1h-1zM314 465h1v1h-1zM358 465h1v1h-1zM552 465h1v1h-1zM574 465h1v1h-1zM755 465h1v1h-1zM801 465h1v1h-1zM849 465h1v1h-1zM162 466h1v1h-1zM253 466h1v1h-1zM314 466h1v1h-1zM358 466h1v1h-1zM553 466h1v1h-1zM574 466h1v1h-1zM801 466h1v1h-1zM849 466h1v1h-1zM162 467h1v1h-1zM253 467h1v1h-1zM314 467h1v1h-1zM357 467h1v1h-1zM553 467h1v1h-1zM574 467h1v1h-1zM801 467h1v1h-1zM849 467h1v1h-1zM163 468h1v1h-1zM253 468h1v1h-1zM315 468h1v1h-1zM357 468h1v1h-1zM554 468h1v1h-1zM573 468h1v1h-1zM801 468h1v1h-1zM848 468h1v1h-1zM163 469h1v1h-1zM252 469h1v1h-1zM315 469h1v1h-1zM357 469h1v1h-1zM555 469h1v1h-1zM573 469h1v1h-1zM802 469h1v1h-1zM848 469h1v1h-1zM163 470h1v1h-1zM252 470h1v1h-1zM315 470h1v1h-1zM356 470h1v1h-1zM555 470h1v1h-1zM573 470h1v1h-1zM802 470h1v1h-1zM848 470h1v1h-1zM164 471h1v1h-1zM252 471h1v1h-1zM316 471h1v1h-1zM356 471h1v1h-1zM556 471h1v1h-1zM572 471h1v1h-1zM802 471h1v1h-1zM848 471h1v1h-1zM164 472h1v1h-1zM252 472h1v1h-1zM316 472h1v1h-1zM356 472h1v1h-1zM556 472h1v1h-1zM572 472h1v1h-1zM802 472h1v1h-1zM847 472h1v1h-1zM165 473h1v1h-1zM251 473h1v1h-1zM317 473h1v1h-1zM355 473h1v1h-1zM557 473h1v1h-1zM572 473h1v1h-1zM802 473h1v1h-1zM847 473h1v1h-1zM165 474h1v1h-1zM251 474h1v1h-1zM317 474h1v1h-1zM355 474h1v1h-1zM557 474h1v1h-1zM571 474h1v1h-1zM803 474h1v1h-1zM847 474h1v1h-1zM166 475h1v1h-1zM250 475h1v1h-1zM318 475h1v1h-1zM354 475h1v1h-1zM558 475h1v1h-1zM571 475h1v1h-1zM803 475h1v1h-1zM846 475h1v1h-1zM166 476h1v1h-1zM250 476h1v1h-1zM318 476h1v1h-1zM352 476h2v1h-2zM558 476h1v1h-1zM570 476h1v1h-1zM803 476h1v1h-1zM846 476h1v1h-1zM167 477h1v1h-1zM249 477h1v1h-1zM319 477h1v1h-1zM351 477h1v1h-1zM559 477h1v1h-1zM570 477h1v1h-1zM804 477h1v1h-1zM846 477h1v1h-1zM167 478h1v1h-1zM248 478h1v1h-1zM319 478h1v1h-1zM350 478h1v1h-1zM559 478h1v1h-1zM569 478h1v1h-1zM805 478h1v1h-1zM846 478h1v1h-1zM167 479h1v1h-1zM247 479h1v1h-1zM320 479h1v1h-1zM348 479h2v1h-2zM560 479h1v1h-1zM568 479h1v1h-1zM806 479h1v1h-1zM845 479h1v1h-1zM168 480h1v1h-1zM247 480h1v1h-1zM320 480h1v1h-1zM347 480h1v1h-1zM560 480h1v1h-1zM567 480h1v1h-1zM807 480h1v1h-1zM845 480h1v1h-1zM168 481h1v1h-1zM246 481h1v1h-1zM321 481h1v1h-1zM346 481h1v1h-1zM561 481h1v1h-1zM567 481h1v1h-1zM807 481h1v1h-1zM845 481h1v1h-1zM169 482h1v1h-1zM245 482h1v1h-1zM321 482h1v1h-1zM346 482h1v1h-1zM561 482h1v1h-1zM566 482h1v1h-1zM808 482h1v1h-1zM845 482h1v1h-1zM169 483h1v1h-1zM244 483h1v1h-1zM322 483h1v1h-1zM345 483h1v1h-1zM562 483h1v1h-1zM565 483h1v1h-1zM809 483h1v1h-1zM844 483h1v1h-1zM170 484h1v1h-1zM244 484h1v1h-1zM322 484h1v1h-1zM345 484h1v1h-1zM562 484h1v1h-1zM564 484h1v1h-1zM810 484h1v1h-1zM844 484h1v1h-1zM170 485h1v1h-1zM218 485h3v1h-3zM240 485h4v1h-4zM323 485h1v1h-1zM344 485h1v1h-1zM563 485h2v1h-2zM811 485h1v1h-1zM827 485h1v1h-1zM844 485h1v1h-1zM171 486h1v1h-1zM214 486h4v1h-4zM221 486h2v1h-2zM234 486h6v1h-6zM324 486h1v1h-1zM343 486h1v1h-1zM563 486h1v1h-1zM812 486h2v1h-2zM825 486h2v1h-2zM828 486h1v1h-1zM844 486h1v1h-1zM171 487h1v1h-1zM211 487h3v1h-3zM223 487h2v1h-2zM232 487h2v1h-2zM325 487h1v1h-1zM343 487h1v1h-1zM814 487h2v1h-2zM824 487h1v1h-1zM829 487h1v1h-1zM843 487h1v1h-1zM172 488h1v1h-1zM209 488h2v1h-2zM225 488h2v1h-2zM229 488h3v1h-3zM326 488h2v1h-2zM342 488h1v1h-1zM816 488h1v1h-1zM822 488h2v1h-2zM830 488h1v1h-1zM843 488h1v1h-1zM173 489h1v1h-1zM207 489h2v1h-2zM227 489h2v1h-2zM328 489h1v1h-1zM341 489h1v1h-1zM817 489h2v1h-2zM820 489h2v1h-2zM831 489h1v1h-1zM841 489h2v1h-2zM174 490h1v1h-1zM205 490h2v1h-2zM329 490h1v1h-1zM341 490h1v1h-1zM819 490h1v1h-1zM832 490h1v1h-1zM840 490h1v1h-1zM175 491h1v1h-1zM203 491h2v1h-2zM330 491h1v1h-1zM340 491h1v1h-1zM833 491h1v1h-1zM838 491h2v1h-2zM175 492h1v1h-1zM202 492h1v1h-1zM331 492h5v1h-5zM340 492h1v1h-1zM834 492h1v1h-1zM836 492h2v1h-2zM176 493h1v1h-1zM200 493h2v1h-2zM336 493h4v1h-4zM835 493h1v1h-1zM177 494h1v1h-1zM199 494h1v1h-1zM178 495h1v1h-1zM198 495h1v1h-1zM179 496h13v1h-13zM196 496h2v1h-2zM192 497h4v1h-4z" fill="#20b2aa"/>
<path d="M3 500L3 506L9 506z" fill="#c0c0c0"/>
<rect x="2" y="1" width="892" height="1" fill="#000"/>
<rect x="2" y="401" width="892" height="1" fill="#000"/>
<rect x="2" y="1" width="1" height="401" fill="#000"/>
<rect x="893" y="1" width="1" height="506" fill="#000"/>
<rect x="2" y="403" width="892" height="1" fill="#000"/>
<rect x="2" y="403" width="1" height="104" fill="#000"/>
<rect x="2" y="506" width="892" height="1" fill="#000"/>
<rect x="894" y="35" width="2" height="1" fill="#000"/>
<rect x="894" y="68" width="2" height="1" fill="#000"/>
<rect x="894" y="101" width="2" height="1" fill="#000"/>
<rect x="894" y="134" width="2" height="1" fill="#000"/>
<rect x="894" y="167" width="2" height="1" fill="#000"/>
<rect x="894" y="200" width="2" height="1" fill="#000"/>
<rect x="894" y="233" width="2" height="1" fill="#000"/>
<rect x="894" y="266" width="2" height="1" fill="#000"/>
<rect x="894" y="299" width="2" height="1" fill="#000"/>
<rect x="894" y="332" width="2" height="1" fill="#000"/>
<rect x="894" y="365" width="2" height="1" fill="#000"/>
<rect x="894" y="398" width="2" height="1" fill="#000"/>
<rect x="894" y="405" width="2" height="1" fill="#000"/>
<rect x="894" y="425" width="2" height="1" fill="#000"/>
<rect x="894" y="485" width="2" height="1" fill="#000"/>
<rect x="894" y="505" width="2" height="1" fill="#000"/>
<rect x="3" y="507" width="1" height="3" fill="#000"/>
<rect x="67" y="507" width="1" height="3" fill="#000"/>
<rect x="131" y="507" width="1" height="3" fill="#000"/>
<rect x="195" y="507" width="1" height="3" fill="#000"/>
<rect x="259" y="507" width="1" height="3" fill="#000"/>
<rect x="323" y="507" width="1" height="3" fill="#000"/>
<rect x="387" y="507" width="1" height="3" fill="#000"/>
<rect x="451" y="507" width="1" height="3" fill="#000"/>
<rect x="515" y="507" width="1" height="3" fill="#000"/>
<rect x="579" y="507" width="1" height="3" fill="#000"/>
<rect x="643" y="507" width="1" height="3" fill="#000"/>
<rect x="707" y="507" width="1" height="3" fill="#000"/>
<rect x="771" y="507" width="1" height="3" fill="#000"/>
<rect x="835" y="507" width="1" height="3" fill="#000"/>
<path d="M6.3 7.9L12.5 7.9L9.4 11.7z" fill="#000" shape-rendering="geometricPrecision"/>
<g font-family="'Liberation Sans', sans-serif" font-size="9.5px" shape-rendering="auto" text-rendering="geometricPrecision">
<text x="899" y="38.8" fill="#000" stroke="#000" stroke-width="0.12" textLength="28" lengthAdjust="spacingAndGlyphs" text-anchor="start">82.680</text>
<text x="899" y="71.8" fill="#000" stroke="#000" stroke-width="0.12" textLength="28" lengthAdjust="spacingAndGlyphs" text-anchor="start">81.680</text>
<text x="899" y="104.8" fill="#000" stroke="#000" stroke-width="0.12" textLength="28" lengthAdjust="spacingAndGlyphs" text-anchor="start">80.680</text>
<text x="899" y="137.8" fill="#000" stroke="#000" stroke-width="0.12" textLength="28" lengthAdjust="spacingAndGlyphs" text-anchor="start">79.705</text>
<text x="899" y="170.8" fill="#000" stroke="#000" stroke-width="0.12" textLength="28" lengthAdjust="spacingAndGlyphs" text-anchor="start">78.705</text>
<text x="899" y="203.8" fill="#000" stroke="#000" stroke-width="0.12" textLength="28" lengthAdjust="spacingAndGlyphs" text-anchor="start">77.705</text>
<text x="899" y="236.8" fill="#000" stroke="#000" stroke-width="0.12" textLength="28" lengthAdjust="spacingAndGlyphs" text-anchor="start">76.705</text>
<text x="899" y="269.8" fill="#000" stroke="#000" stroke-width="0.12" textLength="28" lengthAdjust="spacingAndGlyphs" text-anchor="start">75.730</text>
<text x="899" y="302.8" fill="#000" stroke="#000" stroke-width="0.12" textLength="28" lengthAdjust="spacingAndGlyphs" text-anchor="start">74.730</text>
<text x="899" y="335.8" fill="#000" stroke="#000" stroke-width="0.12" textLength="28" lengthAdjust="spacingAndGlyphs" text-anchor="start">73.730</text>
<text x="899" y="368.8" fill="#000" stroke="#000" stroke-width="0.12" textLength="28" lengthAdjust="spacingAndGlyphs" text-anchor="start">72.755</text>
<text x="899" y="401.8" fill="#000" stroke="#000" stroke-width="0.12" textLength="28" lengthAdjust="spacingAndGlyphs" text-anchor="start">71.755</text>
</g>
<rect x="895" y="11" width="36" height="11" fill="#0000ff"/>
<text x="899" y="19.8" fill="#fff" stroke="#fff" stroke-width="0.12" font-family="'Liberation Sans', sans-serif" font-size="9.5px" textLength="28" lengthAdjust="spacingAndGlyphs" shape-rendering="auto">83.199</text>
<rect x="895" y="52" width="36" height="11" fill="#0000ff"/>
<text x="899" y="60.8" fill="#fff" stroke="#fff" stroke-width="0.12" font-family="'Liberation Sans', sans-serif" font-size="9.5px" textLength="28" lengthAdjust="spacingAndGlyphs" shape-rendering="auto">81.990</text>
<rect x="895" y="126" width="36" height="11" fill="#ff0000"/>
<text x="899" y="134.8" fill="#fff" stroke="#fff" stroke-width="0.12" font-family="'Liberation Sans', sans-serif" font-size="9.5px" textLength="28" lengthAdjust="spacingAndGlyphs" shape-rendering="auto">79.766</text>
<rect x="895" y="169" width="36" height="11" fill="#ff0000"/>
<text x="899" y="177.8" fill="#fff" stroke="#fff" stroke-width="0.12" font-family="'Liberation Sans', sans-serif" font-size="9.5px" textLength="28" lengthAdjust="spacingAndGlyphs" shape-rendering="auto">78.469</text>
<rect x="895" y="70" width="36" height="11" fill="#000000"/>
<text x="899" y="78.8" fill="#fff" stroke="#fff" stroke-width="0.12" font-family="'Liberation Sans', sans-serif" font-size="9.5px" textLength="28" lengthAdjust="spacingAndGlyphs" shape-rendering="auto">81.458</text>
<g font-family="'Liberation Sans', sans-serif" font-size="9.5px" shape-rendering="auto">
<text x="897.5" y="413.8" fill="#000" stroke="#000" stroke-width="0.12" textLength="14" lengthAdjust="spacingAndGlyphs" text-anchor="start">100</text>
<text x="896.4" y="428.6" fill="#000" stroke="#000" stroke-width="0.12" textLength="9.6" lengthAdjust="spacingAndGlyphs" text-anchor="start">80</text>
<text x="896.4" y="489" fill="#000" stroke="#000" stroke-width="0.12" textLength="9.6" lengthAdjust="spacingAndGlyphs" text-anchor="start">20</text>
<text x="897.5" y="503" fill="#000" stroke="#000" stroke-width="0.12" textLength="4.6" lengthAdjust="spacingAndGlyphs" text-anchor="start">0</text>
<text x="18.9" y="12.8" fill="#000" stroke="#000" stroke-width="0.12" textLength="69" lengthAdjust="spacingAndGlyphs" text-anchor="start">USOUSDecn,H4</text>
<text x="94.3" y="12.8" fill="#000" stroke="#000" stroke-width="0.12" textLength="120.1" lengthAdjust="spacingAndGlyphs" text-anchor="start">81.470 81.490 81.385 81.458</text>
<text x="7.1" y="415.7" fill="#000" stroke="#000" stroke-width="0.12" textLength="121.6" lengthAdjust="spacingAndGlyphs" text-anchor="start">Stoch(5,3,3) 95.5949 93.2797</text>
<text x="2.6" y="518.8" fill="#000" stroke="#000" stroke-width="0.12" textLength="46" lengthAdjust="spacingAndGlyphs" text-anchor="start">11 Jul 2023</text>
<text x="66.6" y="518.8" fill="#000" stroke="#000" stroke-width="0.12" textLength="49.4" lengthAdjust="spacingAndGlyphs" text-anchor="start">12 Jul 16:00</text>
<text x="130.6" y="518.8" fill="#000" stroke="#000" stroke-width="0.12" textLength="49.4" lengthAdjust="spacingAndGlyphs" text-anchor="start">14 Jul 00:00</text>
<text x="194.6" y="518.8" fill="#000" stroke="#000" stroke-width="0.12" textLength="49.4" lengthAdjust="spacingAndGlyphs" text-anchor="start">17 Jul 04:00</text>
<text x="258.6" y="518.8" fill="#000" stroke="#000" stroke-width="0.12" textLength="49.4" lengthAdjust="spacingAndGlyphs" text-anchor="start">18 Jul 12:00</text>
<text x="322.6" y="518.8" fill="#000" stroke="#000" stroke-width="0.12" textLength="49.4" lengthAdjust="spacingAndGlyphs" text-anchor="start">19 Jul 20:00</text>
<text x="386.6" y="518.8" fill="#000" stroke="#000" stroke-width="0.12" textLength="49.4" lengthAdjust="spacingAndGlyphs" text-anchor="start">21 Jul 04:00</text>
<text x="450.6" y="518.8" fill="#000" stroke="#000" stroke-width="0.12" textLength="49.4" lengthAdjust="spacingAndGlyphs" text-anchor="start">24 Jul 08:00</text>
<text x="514.6" y="518.8" fill="#000" stroke="#000" stroke-width="0.12" textLength="49.4" lengthAdjust="spacingAndGlyphs" text-anchor="start">25 Jul 16:00</text>
<text x="578.6" y="518.8" fill="#000" stroke="#000" stroke-width="0.12" textLength="49.4" lengthAdjust="spacingAndGlyphs" text-anchor="start">27 Jul 00:00</text>
<text x="642.6" y="518.8" fill="#000" stroke="#000" stroke-width="0.12" textLength="49.4" lengthAdjust="spacingAndGlyphs" text-anchor="start">28 Jul 08:00</text>
<text x="706.6" y="518.8" fill="#000" stroke="#000" stroke-width="0.12" textLength="49.4" lengthAdjust="spacingAndGlyphs" text-anchor="start">31 Jul 12:00</text>
<text x="770.6" y="518.8" fill="#000" stroke="#000" stroke-width="0.12" textLength="50.3" lengthAdjust="spacingAndGlyphs" text-anchor="start">1 Aug 20:00</text>
<text x="834.6" y="518.8" fill="#000" stroke="#000" stroke-width="0.12" textLength="50.3" lengthAdjust="spacingAndGlyphs" text-anchor="start">3 Aug 04:00</text>
</g>
</svg>
</body></html>
